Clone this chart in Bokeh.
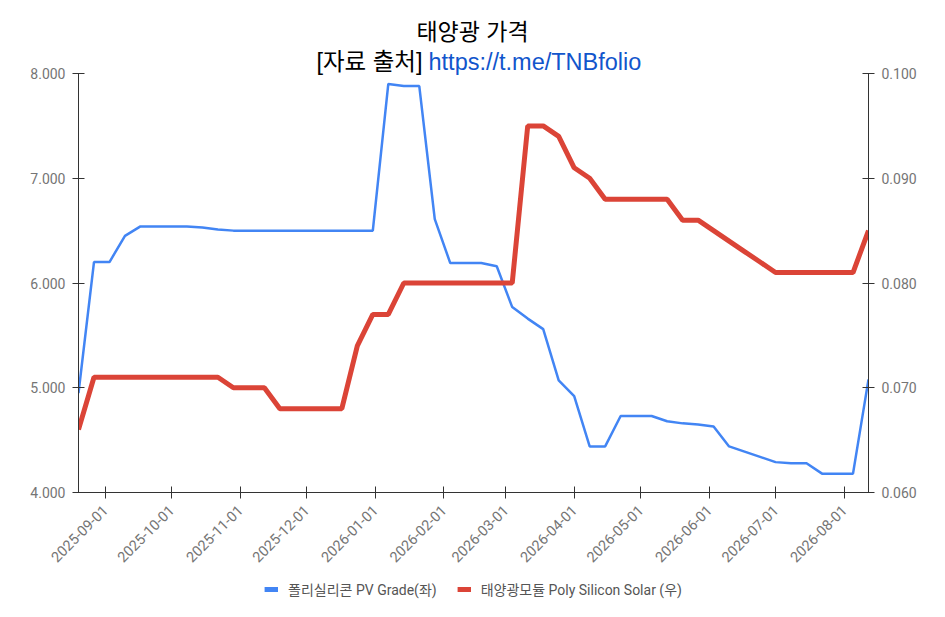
import math
import pandas as pd
from bokeh.plotting import figure
from bokeh.layouts import column
from bokeh.models import (Range1d, LinearAxis, FixedTicker, PrintfTickFormatter,
                          DatetimeTickFormatter, MonthsTicker, Label, Legend, LegendItem,
                          ColumnDataSource)
from bokeh.embed import file_html
from bokeh.resources import INLINE

title_text = "태양광 가격"
source_prefix = "[자료 출처]"
source_url = "https://t.me/TNBfolio"
series_names = ["폴리실리콘 PV Grade(좌)", "태양광모듈 Poly Silicon Solar (우)"]

start_date = "2025-08-20"
n_weeks = 52
dates = pd.date_range(start_date, periods=n_weeks, freq="7D")

polysilicon = [4.95, 6.20, 6.20, 6.45, 6.54, 6.54, 6.54, 6.54, 6.53, 6.51,
               6.50, 6.50, 6.50, 6.50, 6.50, 6.50, 6.50, 6.50, 6.50, 6.50,
               7.90, 7.88, 7.88, 6.61, 6.19, 6.19, 6.19, 6.16, 5.77, 5.66,
               5.56, 5.07, 4.92, 4.44, 4.44, 4.73, 4.73, 4.73, 4.68, 4.66,
               4.65, 4.63, 4.44, 4.39, 4.34, 4.29, 4.28, 4.28, 4.18, 4.18,
               4.18, 5.08]
module = [0.066, 0.071, 0.071, 0.071, 0.071, 0.071, 0.071, 0.071, 0.071, 0.071,
          0.070, 0.070, 0.070, 0.068, 0.068, 0.068, 0.068, 0.068, 0.074, 0.077,
          0.077, 0.080, 0.080, 0.080, 0.080, 0.080, 0.080, 0.080, 0.080, 0.095,
          0.095, 0.094, 0.091, 0.090, 0.088, 0.088, 0.088, 0.088, 0.088, 0.086,
          0.086, 0.085, 0.084, 0.083, 0.082, 0.081, 0.081, 0.081, 0.081, 0.081,
          0.081, 0.085]

left_ticks = [4, 5, 6, 7, 8]
right_ticks = [0.06, 0.07, 0.08, 0.09, 0.10]

src = ColumnDataSource(dict(date=dates, poly=polysilicon, mod=module))

# ---- layout geometry (pixels) ----
W = 929
H_MAIN = 577
H_LEG = 24
AXIS_TOP_PX = 73      # where the value axes begin (below the titles)
FRAME_BOTTOM_PX = 492
MB_LEFT, MB_RIGHT = 78, 61

lmin, lmax = left_ticks[0], left_ticks[-1]
rmin, rmax = right_ticks[0], right_ticks[-1]
axis_px = FRAME_BOTTOM_PX - AXIS_TOP_PX
extra_frac = AXIS_TOP_PX / axis_px   # frame extends up to the canvas top to host titles
y_top = lmax + (lmax - lmin) * extra_frac
r_top = rmax + (rmax - rmin) * extra_frac

p = figure(width=W, height=H_MAIN, x_axis_type="datetime", output_backend="svg",
           toolbar_location=None, min_border_left=MB_LEFT, min_border_right=MB_RIGHT,
           min_border_top=0, min_border_bottom=H_MAIN - FRAME_BOTTOM_PX,
           x_range=Range1d(dates[0], dates[-1]), y_range=Range1d(lmin, y_top))
p.outline_line_color = None
p.grid.visible = False
p.background_fill_color = "white"
p.border_fill_color = "white"

p.extra_y_ranges = {"right": Range1d(rmin, r_top)}

TICK_FONT = "Roboto, 'Noto Sans CJK KR'"
LABEL_COLOR = "#757575"
AXIS_COLOR = "#333333"

def style_axis(ax, size="13px", standoff=7):
    ax.axis_line_color = AXIS_COLOR
    ax.major_tick_line_color = AXIS_COLOR
    ax.minor_tick_line_color = None
    ax.major_tick_in = 6
    ax.major_tick_out = 6
    ax.major_label_text_color = LABEL_COLOR
    ax.major_label_text_font = TICK_FONT
    ax.major_label_text_font_size = size
    ax.major_label_standoff = standoff

yl = p.yaxis[0]
yl.ticker = FixedTicker(ticks=left_ticks)
yl.formatter = PrintfTickFormatter(format="%.3f")
yl.bounds = (lmin, lmax)
style_axis(yl, "14px")

yr = LinearAxis(y_range_name="right", ticker=FixedTicker(ticks=right_ticks),
                formatter=PrintfTickFormatter(format="%.3f"), bounds=(rmin, rmax))
style_axis(yr, "14px")
p.add_layout(yr, "right")

xa = p.xaxis[0]
xa.ticker = MonthsTicker(months=list(range(1, 13)))
xa.formatter = DatetimeTickFormatter(days="%Y-%m-%d", months="%Y-%m-%d", years="%Y-%m-%d")
style_axis(xa, "14.5px", standoff=9)
xa.major_label_orientation = math.pi / 4

BLUE, RED = "#4285F4", "#DB4437"
p.line("date", "poly", source=src, line_color=BLUE, line_width=2.5)
p.line("date", "mod", source=src, line_color=RED, line_width=5, y_range_name="right")

# ---- titles (inside the extended frame, above the axes) ----
TITLE_FONT = "'Liberation Sans', Arimo, 'Noto Sans CJK KR'"
fh = FRAME_BOTTOM_PX  # frame height in px (frame starts at canvas top)
p.add_layout(Label(x=394, y=fh - 31, x_units="screen", y_units="screen",
                   text=title_text, text_align="center", text_baseline="middle",
                   text_font=TITLE_FONT, text_font_size="23px", text_color="#000000"))
p.add_layout(Label(x=344, y=fh - 61, x_units="screen", y_units="screen",
                   text=source_prefix, text_align="right", text_baseline="middle",
                   text_font=TITLE_FONT, text_font_size="23.5px", text_color="#000000"))
p.add_layout(Label(x=350, y=fh - 61, x_units="screen", y_units="screen",
                   text=source_url, text_align="left", text_baseline="middle",
                   text_font=TITLE_FONT, text_font_size="23.5px", text_color="#1155CC"))

# ---- legend strip (series drawn off-view so the legend can show their swatches) ----
pl = figure(width=W, height=H_LEG, output_backend="svg", toolbar_location=None,
            x_axis_location=None, y_axis_location=None, min_border=0,
            x_range=Range1d(0, 1), y_range=Range1d(0, 1))
pl.outline_line_color = None
pl.grid.visible = False
sw_blue = pl.line("date", "poly", source=src, line_color=BLUE, line_width=5)
sw_red = pl.line("date", "mod", source=src, line_color=RED, line_width=5)
legend = Legend(items=[LegendItem(label=series_names[0], renderers=[sw_blue]),
                       LegendItem(label=series_names[1], renderers=[sw_red])],
                orientation="horizontal", location="center",
                border_line_color=None, background_fill_alpha=0,
                label_text_font=TICK_FONT, label_text_font_size="14px",
                label_text_color="#555555", glyph_width=14, glyph_height=12,
                spacing=20, padding=2, margin=0, label_standoff=10)
pl.add_layout(legend, "center")

layout = column(p, pl, spacing=0)
open("out.html", "w").write(file_html(layout, INLINE))
